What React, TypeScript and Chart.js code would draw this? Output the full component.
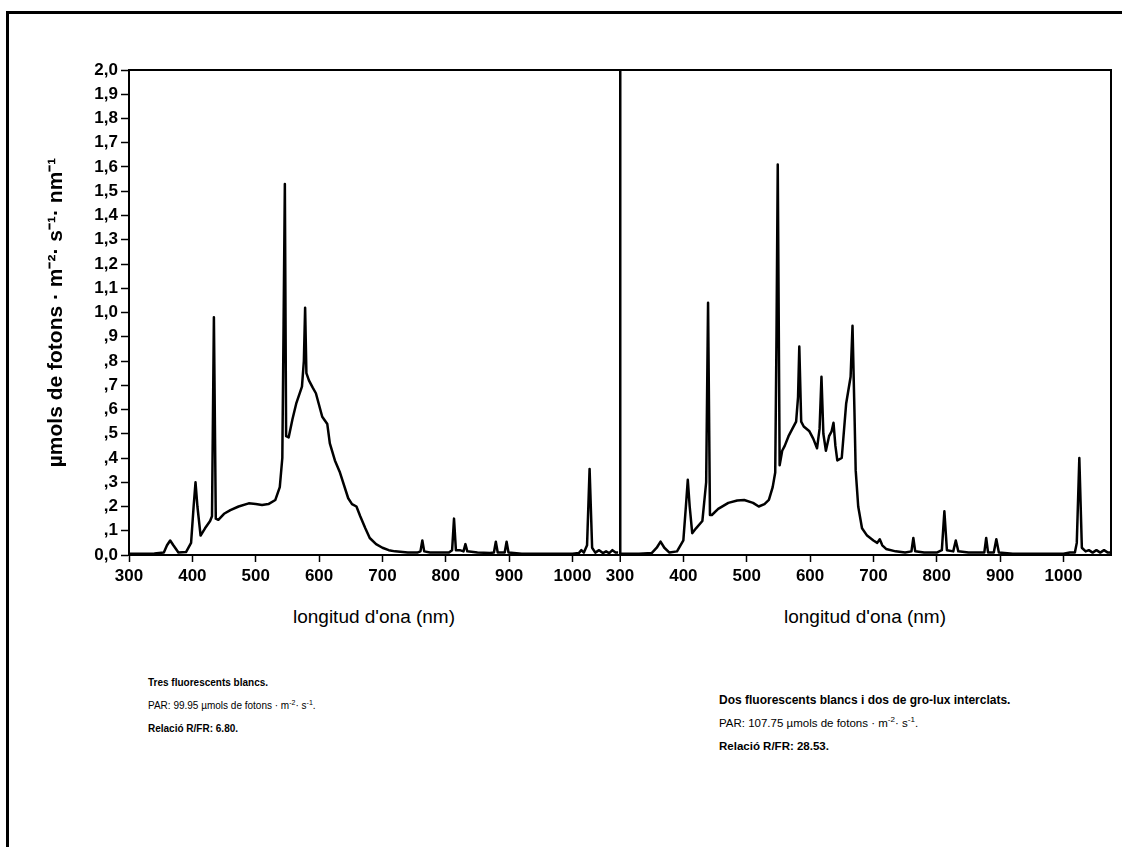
import React, { useEffect, useRef } from "react";
import { Chart, registerables } from "chart.js";

Chart.register(...registerables);

const FONT = "'Liberation Sans', Arial, Helvetica, sans-serif";

// Each panel covers 300 .. 1075 nm; the right panel is shifted by PANEL_SPAN on the shared x scale
const PANEL_SPAN = 775;
const X_TICKS_NM = [300, 400, 500, 600, 700, 800, 900, 1000];
const Y_TICKS = [0, 0.1, 0.2, 0.3, 0.4, 0.5, 0.6, 0.7, 0.8, 0.9, 1.0, 1.1, 1.2, 1.3, 1.4, 1.5, 1.6, 1.7, 1.8, 1.9, 2.0];
const Y_LABELS = ["0,0", ",1", ",2", ",3", ",4", ",5", ",6", ",7", ",8", ",9", "1,0", "1,1", "1,2", "1,3", "1,4", "1,5", "1,6", "1,7", "1,8", "1,9", "2,0"];

// Left panel: Tres fluorescents blancs
const WL_A = [300, 320, 340, 355, 360, 365, 370, 378, 390, 398, 402, 405, 408, 413, 420, 428, 431, 434, 437, 441, 450, 460, 473, 489, 500, 510, 520, 531, 538, 542, 544, 546, 548, 552, 558, 564, 573, 576, 578, 580, 584, 590, 595, 605, 613, 617, 625, 633, 646, 652, 659, 665, 673, 680, 690, 700, 710, 720, 740, 755, 760, 763, 766, 775, 790, 805, 810, 813, 816, 822, 828, 831, 834, 850, 870, 876, 879, 882, 890, 893, 896, 899, 920, 960, 1000, 1010, 1014, 1018, 1023, 1027, 1031, 1036, 1042, 1048, 1053, 1058, 1063, 1068, 1072];
const VAL_A = [0.005, 0.005, 0.006, 0.01, 0.04, 0.06, 0.04, 0.01, 0.012, 0.05, 0.2, 0.3, 0.2, 0.08, 0.11, 0.14, 0.16, 0.98, 0.15, 0.145, 0.17, 0.185, 0.2, 0.213, 0.21, 0.206, 0.21, 0.227, 0.28, 0.4, 0.95, 1.53, 0.49, 0.485, 0.56, 0.625, 0.694, 0.8, 1.02, 0.75, 0.72, 0.69, 0.667, 0.57, 0.54, 0.46, 0.39, 0.34, 0.234, 0.21, 0.2, 0.16, 0.11, 0.07, 0.045, 0.03, 0.02, 0.015, 0.01, 0.01, 0.015, 0.06, 0.015, 0.01, 0.01, 0.01, 0.02, 0.15, 0.02, 0.02, 0.015, 0.045, 0.015, 0.01, 0.008, 0.01, 0.055, 0.01, 0.01, 0.01, 0.055, 0.01, 0.005, 0.005, 0.005, 0.008, 0.02, 0.01, 0.04, 0.355, 0.03, 0.01, 0.02, 0.008, 0.015, 0.008, 0.02, 0.01, 0.01];

// Right panel: Dos fluorescents blancs i dos de gro-lux interclats
const WL_B = [300, 330, 350, 358, 364, 370, 378, 390, 400, 404, 407, 410, 414, 420, 430, 436, 439, 442, 445, 455, 471, 485, 496, 510, 519, 528, 535, 541, 545, 547, 549, 552, 556, 560, 566, 572, 578, 581, 583, 586, 590, 599, 605, 611, 615, 618, 621, 625, 630, 634, 637, 640, 643, 650, 657, 664, 667, 670, 672, 676, 682, 690, 700, 706, 710, 714, 720, 735, 750, 760, 763, 766, 780, 800, 808, 812, 816, 826, 830, 834, 850, 870, 875, 878, 881, 890, 894, 898, 920, 960, 1000, 1010, 1018, 1021, 1025, 1029, 1035, 1040, 1046, 1052, 1058, 1064, 1070, 1075];
const VAL_B = [0.005, 0.005, 0.008, 0.03, 0.055, 0.03, 0.01, 0.015, 0.06, 0.2, 0.31, 0.2, 0.09, 0.11, 0.14, 0.3, 1.04, 0.165, 0.165, 0.19, 0.215, 0.225, 0.227, 0.215, 0.2, 0.21, 0.227, 0.28, 0.34, 0.9, 1.61, 0.37, 0.43, 0.45, 0.49, 0.52, 0.55, 0.65, 0.86, 0.55, 0.53, 0.51, 0.48, 0.44, 0.52, 0.735, 0.5, 0.43, 0.49, 0.51, 0.545, 0.45, 0.39, 0.4, 0.625, 0.735, 0.945, 0.6, 0.35, 0.2, 0.11, 0.08, 0.06, 0.05, 0.065, 0.04, 0.025, 0.015, 0.01, 0.015, 0.07, 0.015, 0.01, 0.01, 0.02, 0.18, 0.02, 0.015, 0.06, 0.015, 0.01, 0.01, 0.01, 0.07, 0.01, 0.01, 0.065, 0.01, 0.005, 0.005, 0.005, 0.01, 0.01, 0.05, 0.4, 0.03, 0.015, 0.02, 0.01, 0.02, 0.01, 0.02, 0.01, 0.01];

const Y_TITLE = "µmols de fotons · m⁻²· s⁻¹· nm⁻¹";
const X_TITLE = "longitud d'ona (nm)";

const framePlugin = {
  id: "frame",
  afterDraw(chart: any) {
    const { ctx, chartArea } = chart;
    const { left, top, right, bottom } = chartArea;
    ctx.save();
    ctx.strokeStyle = "#000";
    ctx.lineWidth = 2;
    ctx.beginPath();
    ctx.moveTo(left, top);
    ctx.lineTo(right, top);
    ctx.lineTo(right, bottom);
    ctx.stroke();
    ctx.restore();
  },
};

function SpectrumChart() {
  const ref = useRef<HTMLCanvasElement | null>(null);
  useEffect(() => {
    if (!ref.current) return;
    const divider = 300 + PANEL_SPAN;
    const chart = new Chart(ref.current, {
      type: "line",
      data: {
        datasets: [
          {
            data: WL_A.map((w, i) => ({ x: w, y: VAL_A[i] })),
            borderColor: "#000",
            borderWidth: 2.5,
            pointRadius: 0,
            tension: 0,
            borderJoinStyle: "round",
            fill: false,
          },
          {
            data: WL_B.map((w, i) => ({ x: w + PANEL_SPAN, y: VAL_B[i] })),
            borderColor: "#000",
            borderWidth: 2.5,
            pointRadius: 0,
            tension: 0,
            borderJoinStyle: "round",
            fill: false,
          },
        ],
      },
      options: {
        animation: false,
        responsive: false,
        devicePixelRatio: 1,
        layout: { padding: { top: 70, right: 11, left: 0, bottom: 0 } },
        plugins: { legend: { display: false }, tooltip: { enabled: false } },
        scales: {
          x: {
            type: "linear",
            min: 300,
            max: 300 + 2 * PANEL_SPAN,
            afterBuildTicks(scale: any) {
              scale.ticks = [...X_TICKS_NM, ...X_TICKS_NM.map((v) => v + PANEL_SPAN)].map((v) => ({ value: v }));
            },
            afterFit(scale: any) {
              scale.height = 45;
            },
            ticks: {
              autoSkip: false,
              maxRotation: 0,
              color: "#000",
              padding: 4,
              font: { family: FONT, size: 17, weight: "bold" },
              callback: (v: any) => String(v >= divider ? v - PANEL_SPAN : v),
            },
            grid: {
              drawOnChartArea: true,
              color: (c: any) => (c.tick && c.tick.value === divider ? "#000" : "rgba(0,0,0,0)"),
              lineWidth: (c: any) => (c.tick && c.tick.value === divider ? 2.5 : 1),
              tickColor: "#000",
              tickLength: 7,
              tickWidth: 1.5,
            },
            border: { display: true, color: "#000", width: 2 },
          },
          y: {
            type: "linear",
            min: 0,
            max: 2,
            afterBuildTicks(scale: any) {
              scale.ticks = Y_TICKS.map((v) => ({ value: v }));
            },
            afterFit(scale: any) {
              scale.width = 129;
            },
            ticks: {
              color: "#000",
              padding: 3,
              font: { family: FONT, size: 17, weight: "bold" },
              callback: (_v: any, i: number) => Y_LABELS[i],
            },
            grid: {
              drawOnChartArea: false,
              tickColor: "#000",
              tickLength: 8,
              tickWidth: 1.5,
            },
            border: { display: true, color: "#000", width: 2 },
            title: {
              display: true,
              text: Y_TITLE,
              color: "#000",
              font: { family: FONT, size: 21, weight: "bold" },
              padding: { top: 44, bottom: 0 },
            },
          },
        },
      },
      plugins: [framePlugin],
    } as any);
    return () => chart.destroy();
  }, []);
  return (
    <canvas
      ref={ref}
      width={1122}
      height={600}
      style={{ position: "absolute", left: 0, top: 0, width: 1122, height: 600 }}
    />
  );
}

const lineStyle = (size: number, bold: boolean): React.CSSProperties => ({
  height: 23,
  lineHeight: "23px",
  fontSize: size,
  fontWeight: bold ? "bold" : "normal",
  whiteSpace: "nowrap",
});
const supStyle: React.CSSProperties = { fontSize: "70%", verticalAlign: "super", lineHeight: 0 };

export default function App() {
  useEffect(() => {
    document.body.style.overflow = "hidden";
  }, []);
  return (
    <div
      style={{
        position: "absolute",
        left: 0,
        top: 0,
        width: 1122,
        height: 847,
        overflow: "hidden",
        background: "#fff",
        fontFamily: FONT,
        color: "#000",
      }}
    >
      <div
        style={{
          position: "absolute",
          left: 6,
          top: 11,
          width: 1116,
          height: 836,
          boxSizing: "border-box",
          borderTop: "3px solid #000",
          borderLeft: "3px solid #000",
        }}
      />
      <SpectrumChart />
      <div style={{ position: "absolute", left: 374, top: 606, transform: "translateX(-50%)", fontSize: 19, lineHeight: "22px", whiteSpace: "nowrap" }}>
        {X_TITLE}
      </div>
      <div style={{ position: "absolute", left: 865, top: 606, transform: "translateX(-50%)", fontSize: 19, lineHeight: "22px", whiteSpace: "nowrap" }}>
        {X_TITLE}
      </div>
      <div style={{ position: "absolute", left: 148, top: 671 }}>
        <div style={lineStyle(10, true)}>Tres fluorescents blancs.</div>
        <div style={lineStyle(10, false)}>
          PAR: 99.95 µmols de fotons · m<span style={supStyle}>-2</span>· s<span style={supStyle}>-1</span>.
        </div>
        <div style={lineStyle(10, true)}>Relació R/FR: 6.80.</div>
      </div>
      <div style={{ position: "absolute", left: 719, top: 689 }}>
        <div style={lineStyle(12, true)}>Dos fluorescents blancs i dos de gro-lux interclats.</div>
        <div style={lineStyle(11.5, false)}>
          PAR: 107.75 µmols de fotons · m<span style={supStyle}>-2</span>· s<span style={supStyle}>-1</span>.
        </div>
        <div style={lineStyle(11.5, true)}>Relació R/FR: 28.53.</div>
      </div>
    </div>
  );
}
